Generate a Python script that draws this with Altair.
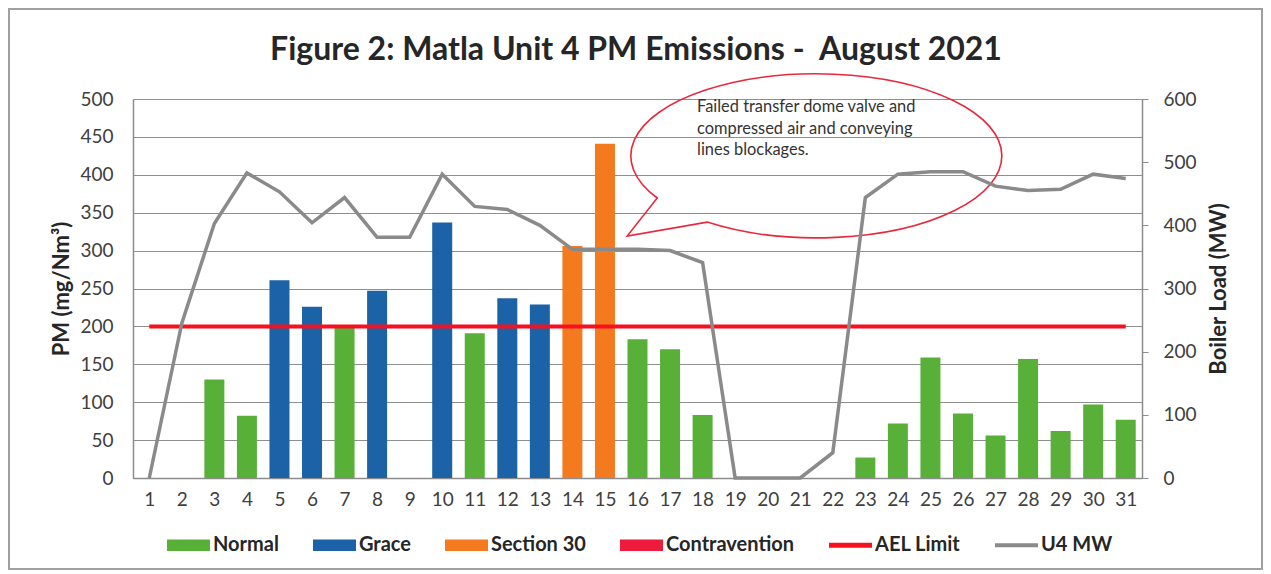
import altair as alt
import pandas as pd

# ---------------- data ----------------
days = list(range(1, 32))
pm_values = [None, None, 130, 82, 261, 226, 198, 247, None, 337, 191, 237, 229, 306, 441,
             183, 170, 83, None, None, None, None, 27, 72, 159, 85, 56, 157, 62, 97, 77]
pm_status = ["", "", "Normal", "Normal", "Grace", "Grace", "Normal", "Grace", "", "Grace",
             "Normal", "Grace", "Grace", "Section 30", "Section 30", "Normal", "Normal", "Normal",
             "", "", "", "", "Normal", "Normal", "Normal", "Normal", "Normal", "Normal", "Normal",
             "Normal", "Normal"]
u4_mw = [0, 245, 403, 483, 453, 404, 444, 381, 381, 481, 430, 425, 400, 362, 362, 362, 360,
         341, 0, 0, 0, 40, 444, 481, 485, 485, 462, 455, 457, 481, 474]
ael_limit = 200

legend_names = ["Normal", "Grace", "Section 30", "Contravention", "AEL Limit", "U4 MW"]
legend_colors = ["#58b038", "#1b62a6", "#f47a20", "#ee1b3c", "#f8101e", "#8a8a8a"]

note_text = "Failed transfer dome valve and\ncompressed air and conveying\nlines blockages."
title_text = "Figure 2: Matla Unit 4 PM Emissions -\u00a0 August 2021"

df = pd.DataFrame({"day": days, "pm": pm_values, "status": pm_status,
                   "mw": u4_mw, "ael": [ael_limit] * len(days)})

# ---------------- styling ----------------
FONT = "Lato"
RECT_SHAPE = "M -1 -0.267 H 1 V 0.267 H -1 Z"
RED_LINE_SHAPE = "M -1 -0.116 H 1 V 0.116 H -1 Z"
GRAY_LINE_SHAPE = "M -1 -0.093 H 1 V 0.093 H -1 Z"
legend_shapes = [RECT_SHAPE] * 4 + [RED_LINE_SHAPE, GRAY_LINE_SHAPE]
BUBBLE = "M -0.827 0.237 A 1 0.442 0 1 1 -0.558 0.367 L -0.989 0.442 Z"

xscale = alt.Scale(domain=[0.5, 31.5], nice=False, zero=False, padding=0)
yscale_left = alt.Scale(domain=[0, 500], nice=False)
yscale_right = alt.Scale(domain=[0, 600], nice=False)
color_scale = alt.Scale(domain=legend_names, range=legend_colors)
shape_scale = alt.Scale(domain=legend_names, range=legend_shapes)

x_axis = alt.Axis(values=days, labelAngle=0, grid=False, ticks=False, domainColor="#8c8c8c",
                  domainWidth=1.5, labelPadding=12, labelFontSize=19, labelFont=FONT,
                  labelColor="#404040", title=None, labelFlush=False, labelOverlap=False,
                  labelBound=False, labelSeparation=0)
y_axis_left = alt.Axis(values=list(range(0, 501, 50)), grid=True, gridColor="#8f8f8f",
                       gridWidth=1, ticks=False, domainColor="#8c8c8c", domainWidth=1.5,
                       labelPadding=20, labelFontSize=19, labelFont=FONT, labelColor="#404040",
                       title="PM (mg/Nm³)", titleFont=FONT, titleFontSize=22,
                       titleFontWeight="bold", titleColor="#262626", titlePadding=6,
                       labelOverlap=False)
y_axis_right = alt.Axis(orient="right", values=list(range(0, 601, 100)), grid=False, ticks=True,
                        tickSize=6, tickColor="#8c8c8c", domainColor="#8c8c8c", domainWidth=1.5,
                        labelPadding=15, labelFontSize=19, labelFont=FONT, labelColor="#404040",
                        title="Boiler Load (MW)", titleFont=FONT, titleFontSize=22,
                        titleFontWeight="bold", titleColor="#262626", titlePadding=12,
                        titleAngle=270, titleBaseline="top", labelOverlap=False)

legend_kw = dict(orient="none", legendX=34, legendY=424.5, direction="horizontal", columns=6,
                 columnPadding=34, labelFont=FONT, labelFontSize=20, labelFontWeight="bold",
                 labelColor="#262626", symbolSize=1849, symbolStrokeWidth=0, labelOffset=3,
                 symbolOpacity=1, title=None)


def xenc(field):
    return alt.X(field, scale=xscale, axis=x_axis)


# ---------------- layers ----------------
bars = alt.Chart(df).transform_filter("isValid(datum.pm)").mark_bar(size=20).encode(
    x=xenc("day:Q"),
    y=alt.Y("pm:Q", scale=yscale_left, axis=y_axis_left),
    color=alt.Color("status:N", scale=color_scale),
)

ael = alt.Chart(df).mark_line(color="#f8101e", strokeWidth=4).encode(
    x=xenc("day:Q"),
    y=alt.Y("ael:Q", scale=yscale_left, axis=None),
)

legend_layer = alt.Chart(pd.DataFrame({"item": legend_names})).transform_filter(
    "false").mark_point(filled=True, opacity=1).encode(
    color=alt.Color("item:N", scale=color_scale, legend=alt.Legend(**legend_kw)),
    shape=alt.Shape("item:N", scale=shape_scale, legend=alt.Legend(**legend_kw)),
)

bubble = alt.Chart(alt.Data(values=[{"bx": 21.32, "by": 427.4}])).mark_point(
    shape=BUBBLE, size=371 * 371, filled=False, color="#e8283c", strokeWidth=1.6, opacity=1
).encode(
    x=xenc("bx:Q"),
    y=alt.Y("by:Q", scale=yscale_left, axis=None),
)

note = alt.Chart(alt.Data(values=[{"nx": 17.83, "ny": 500, "t": note_text}])).mark_text(
    align="left", baseline="top", font=FONT, fontSize=16.4, color="#333333",
    lineBreak="\n", lineHeight=21.7
).encode(
    x=xenc("nx:Q"),
    y=alt.Y("ny:Q", scale=yscale_left, axis=None),
    text="t:N",
)

title_mark = alt.Chart(alt.Data(values=[{"t": title_text}])).mark_text(
    align="center", baseline="alphabetic", font=FONT, fontSize=32, fontWeight="bold",
    color="#262626"
).encode(x=alt.value(503), y=alt.value(-39), text="t:N")

frame = alt.Chart(alt.Data(values=[{"f": 1}])).mark_rect(
    fill="transparent", stroke="#a0a0a0", strokeWidth=2
).encode(
    x=alt.value(-124), x2=alt.value(1129), y=alt.value(-90), y2=alt.value(470)
)

mw_line = alt.Chart(df).mark_line(color="#8a8a8a", strokeWidth=3.5).encode(
    x=xenc("day:Q"),
    y=alt.Y("mw:Q", scale=yscale_right, axis=y_axis_right),
)

chart = alt.layer(bars, ael, legend_layer, bubble, note, mw_line, title_mark, frame).resolve_scale(
    y="independent"
).properties(
    width=1009, height=379,
    autosize=alt.AutoSizeParams(type="none"),
    padding={"left": 125, "top": 91, "right": 121, "bottom": 92},
).configure_view(stroke=None).configure_axisX(labelOverlap=False)

chart.save("out.html", embed_options={"renderer": "svg", "actions": False})
